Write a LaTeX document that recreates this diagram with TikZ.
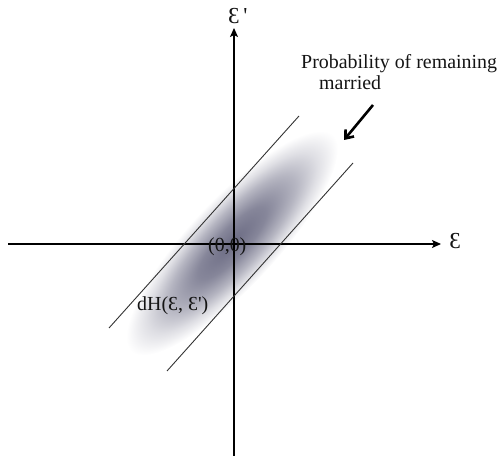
\documentclass[tikz,border=0pt]{standalone}
\usepackage{fontspec}
\setmainfont{Liberation Serif}
\usetikzlibrary{arrows.meta}
\definecolor{blobc}{RGB}{108,108,132}
\definecolor{txt}{RGB}{20,20,20}
\pgfdeclareradialshading{blobshade}{\pgfpoint{0bp}{0bp}}{color(0bp)=(blobc); color(8bp)=(blobc!82!white); color(15bp)=(blobc!50!white); color(20bp)=(blobc!22!white); color(24bp)=(blobc!4!white); color(25bp)=(white); color(50bp)=(white)}
\tikzset{
  axis/.style={line width=1.2bp, black, -{Stealth[length=9bp,width=8bp,inset=2bp]}},
  bandline/.style={line width=0.9bp, black!80},
  pointer/.style={line width=2.6bp, black, -{Straight Barb[length=7bp,width=11bp,line width=2.6bp]}},
  lbl/.style={inner sep=0pt, text=txt, font=\fontsize{20}{20}\selectfont},
  elbl/.style={inner sep=0pt, text=txt, font=\fontsize{23}{23}\selectfont},
}
\begin{document}
\begin{tikzpicture}[x=1bp,y=1bp]
\useasboundingbox (0,0) rectangle (497,460);
\begin{scope}[transform canvas={shift={(232,217)},rotate=47}]
  \shade[shading=blobshade] (0,0) ellipse [x radius=148, y radius=44];
\end{scope}
% axes
\coordinate (xl) at (8,216);
\coordinate (xr) at (441,216);
\coordinate (yb) at (234,4);
\coordinate (yt) at (234,432);
\draw[axis] (xl) -- (xr);
\draw[axis] (yb) -- (yt);
% band lines
\coordinate (u1) at (299,344);
\coordinate (u2) at (109,132);
\coordinate (l1) at (353,297);
\coordinate (l2) at (167,89);
\draw[bandline] (u1) -- (u2);
\draw[bandline] (l1) -- (l2);
% pointer arrow
\coordinate (pt) at (373,355);
\coordinate (ph) at (344,320);
\draw[pointer] (pt) -- (ph);
% labels
\node[elbl] (ex) at (455,219) {Ɛ};
\node[elbl, anchor=base west] (ey) at (228,436) {Ɛ\,\textquotesingle};
\node[lbl, anchor=base west] (orig) at (208,208) {(0,0)};
\node[lbl, anchor=base west] (dh) at (137,149) {dH(Ɛ, Ɛ\textquotesingle)};
\node[lbl, anchor=base west] (p1) at (301,391) {Probability of remaining};
\node[lbl, anchor=base west] (p2) at (319,370) {married};
\end{tikzpicture}
\end{document}
